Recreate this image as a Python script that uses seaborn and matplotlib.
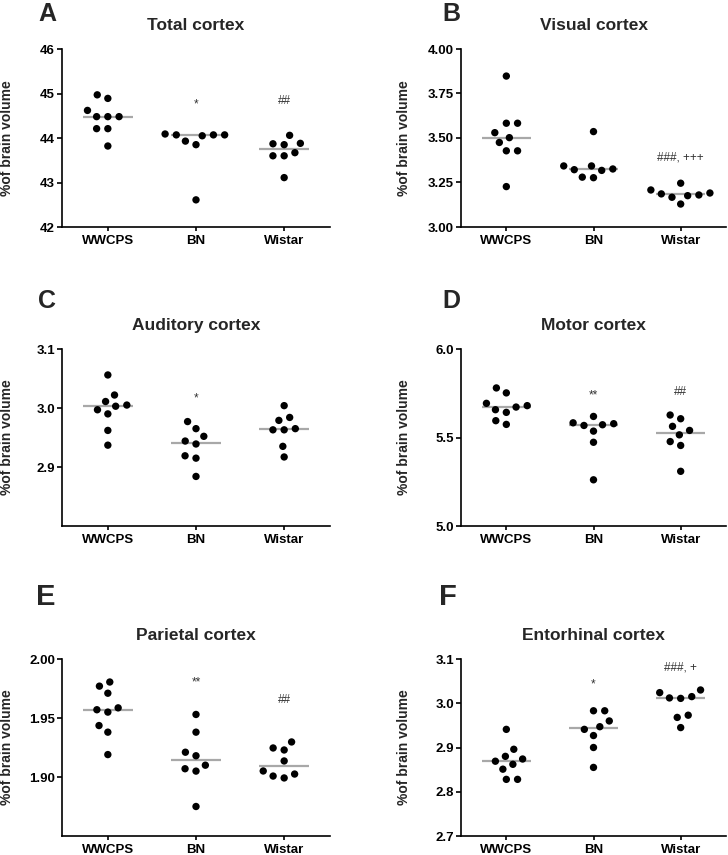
import numpy as np
import pandas as pd
import matplotlib
matplotlib.use("Agg")
import matplotlib.pyplot as plt
import seaborn as sns

# --------------------------------------------------
# data, % of brain volume per animal
# --------------------------------------------------
groups = ["WWCPS", "BN", "Wistar"]

total_wwcps = [44.97, 44.89, 44.62, 44.48, 44.48, 44.48, 44.21, 44.21, 43.82]
total_bn = [44.07, 44.07, 44.09, 43.93, 44.05, 43.85, 44.07, 42.61]
total_wistar = [43.88, 43.85, 43.87, 44.06, 43.60, 43.60, 43.67, 43.11]

visual_wwcps = [3.848, 3.583, 3.583, 3.530, 3.502, 3.475, 3.428, 3.428, 3.227]
visual_bn = [3.536, 3.326, 3.318, 3.343, 3.343, 3.322, 3.277, 3.280]
visual_wistar = [3.186, 3.208, 3.176, 3.191, 3.246, 3.167, 3.180, 3.129]

auditory_wwcps = [3.056, 3.022, 3.011, 3.003, 3.005, 2.990, 2.997, 2.962, 2.937]
auditory_bn = [2.977, 2.965, 2.952, 2.939, 2.944, 2.919, 2.915, 2.884]
auditory_wistar = [3.004, 2.979, 2.984, 2.963, 2.963, 2.965, 2.935, 2.917]

motor_wwcps = [5.780, 5.752, 5.680, 5.693, 5.657, 5.672, 5.642, 5.595, 5.574]
motor_bn = [5.619, 5.583, 5.572, 5.568, 5.578, 5.536, 5.473, 5.261]
motor_wistar = [5.627, 5.606, 5.563, 5.540, 5.515, 5.477, 5.455, 5.309]

parietal_wwcps = [1.9805, 1.977, 1.971, 1.9586, 1.955, 1.957, 1.9436, 1.938, 1.919]
parietal_bn = [1.953, 1.938, 1.918, 1.921, 1.907, 1.905, 1.910, 1.875]
parietal_wistar = [1.9246, 1.9229, 1.9297, 1.9136, 1.9051, 1.9025, 1.8992, 1.9008]

entorhinal_wwcps = [2.941, 2.896, 2.880, 2.869, 2.862, 2.874, 2.851, 2.828, 2.828]
entorhinal_bn = [2.983, 2.983, 2.960, 2.947, 2.941, 2.927, 2.900, 2.855]
entorhinal_wistar = [3.030, 3.024, 3.015, 3.011, 3.012, 2.973, 2.968, 2.945]

titles = ["Total cortex", "Visual cortex", "Auditory cortex",
          "Motor cortex", "Parietal cortex", "Entorhinal cortex"]
letters = ["A", "B", "C", "D", "E", "F"]

y_ticks = [
    [42, 43, 44, 45, 46],
    [3.00, 3.25, 3.50, 3.75, 4.00],
    [2.9, 3.0, 3.1],
    [5.0, 5.5, 6.0],
    [1.90, 1.95, 2.00],
    [2.7, 2.8, 2.9, 3.0, 3.1],
]
y_limits = [(42, 46), (3.0, 4.0), (2.8, 3.1), (5.0, 6.0), (1.85, 2.00), (2.7, 3.1)]
tick_fmt = ["{:.0f}", "{:.2f}", "{:.1f}", "{:.1f}", "{:.2f}", "{:.1f}"]

# significance marks: (group index, text, height in axes fraction)
sig_marks = [
    [(1, "*", 0.69), (2, "##", 0.71)],
    [(2, "###, +++", 0.39)],
    [(1, "*", 0.72)],
    [(1, "**", 0.74), (2, "##", 0.755)],
    [(1, "**", 0.865), (2, "##", 0.77)],
    [(1, "*", 0.855), (2, "###, +", 0.95)],
]

panels = [
    (total_wwcps, total_bn, total_wistar),
    (visual_wwcps, visual_bn, visual_wistar),
    (auditory_wwcps, auditory_bn, auditory_wistar),
    (motor_wwcps, motor_bn, motor_wistar),
    (parietal_wwcps, parietal_bn, parietal_wistar),
    (entorhinal_wwcps, entorhinal_bn, entorhinal_wistar),
]

# --------------------------------------------------
# layout (pixel boxes of the original figure)
# --------------------------------------------------
sns.set_style("ticks")
plt.rcParams["font.family"] = ["Liberation Sans", "DejaVu Sans"]
plt.rcParams["font.weight"] = "bold"

W, H = 728, 855
fig = plt.figure(figsize=(W / 100, H / 100), dpi=100)

col_x = [(62, 330), (461, 726)]
row_y = [(49, 227), (349, 526), (659, 836)]
label_x = [-0.179, -0.189]
letter_pos = [(47, 14), (451, 14), (47, 301), (451, 301), (46, 597), (448, 597)]
letter_size = [18, 18, 18, 18, 21, 21]

for i, (vals, title) in enumerate(zip(panels, titles)):
    r, c = divmod(i, 2)
    x0, x1 = col_x[c]
    yt, yb = row_y[r]
    ax = fig.add_axes([x0 / W, 1 - yb / H, (x1 - x0) / W, (yb - yt) / H])

    df = pd.DataFrame({
        "group": np.repeat(groups, [len(v) for v in vals]),
        "value": np.concatenate(vals),
    })

    # median line only, kept under the dots
    sns.boxplot(data=df, x="group", y="value", order=groups, width=0.56,
                showbox=False, showcaps=False, showfliers=False,
                whiskerprops={"visible": False},
                medianprops={"color": "#a8a8a8", "linewidth": 1.6, "zorder": 1.5},
                ax=ax)
    sns.swarmplot(data=df, x="group", y="value", order=groups,
                  color="black", size=5.3, linewidth=2.4, edgecolor="none",
                  zorder=3, ax=ax)

    ax.set_xlim(-0.52, 2.52)
    ax.set_ylim(*y_limits[i])
    ax.set_yticks(y_ticks[i])
    ax.set_yticklabels([tick_fmt[i].format(t) for t in y_ticks[i]])
    ax.set_xlabel("")
    ax.set_ylabel("%of brain volume", fontsize=10, fontweight="bold")
    ax.yaxis.set_label_coords(label_x[c], 0.5)
    ax.set_title(title, fontsize=12.5, fontweight="bold", pad=14)

    for side in ["top", "right"]:
        ax.spines[side].set_visible(False)
    for side in ["left", "bottom"]:
        ax.spines[side].set_linewidth(1.2)
        ax.spines[side].set_color("black")
    ax.tick_params(axis="x", length=3, width=1.2, pad=3, labelsize=9.5, colors="black")
    ax.tick_params(axis="y", length=3.5, width=1.2, pad=1.5, labelsize=9.5, colors="black")
    for lab in ax.get_xticklabels() + ax.get_yticklabels():
        lab.set_fontweight("bold")

    for gi, txt, yf in sig_marks[i]:
        ax.text(gi, yf, txt, transform=ax.get_xaxis_transform(),
                ha="center", va="center", fontsize=8.5, fontweight="normal",
                color="#333333")

    lx, ly = letter_pos[i]
    fig.text(lx / W, 1 - ly / H, letters[i], ha="center", va="center",
             fontsize=letter_size[i], fontweight="bold")

fig.savefig("out.png", dpi=100)
plt.close(fig)
